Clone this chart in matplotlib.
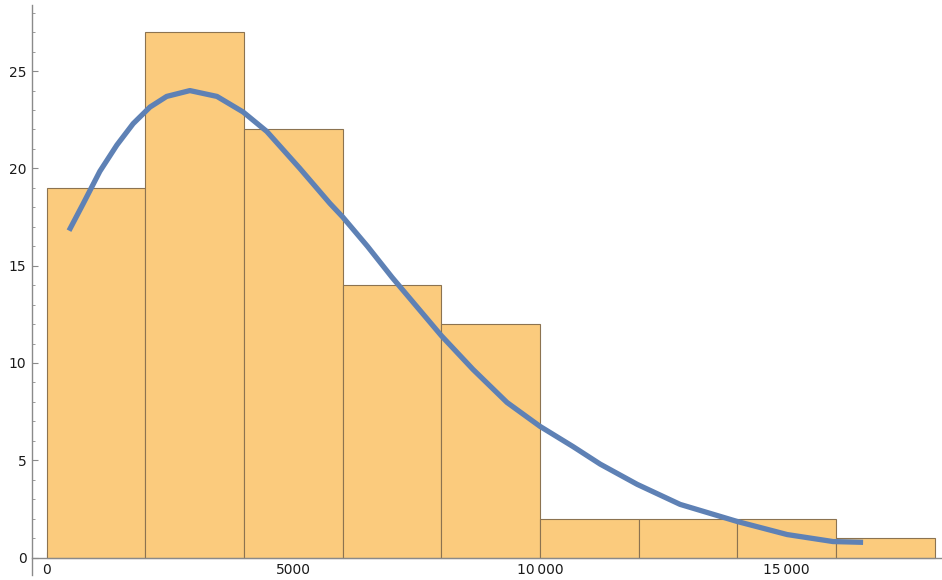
import matplotlib.pyplot as plt
from matplotlib.ticker import MultipleLocator, FuncFormatter

# histogram bins (width 2000) and counts
bin_edges = [0, 2000, 4000, 6000, 8000, 10000, 12000, 14000, 16000, 18000]
counts = [19, 27, 22, 14, 12, 2, 2, 2, 1]

# fitted density curve
curve_x = [450, 740, 1075, 1420, 1750, 2090, 2430, 2900, 3450, 3980, 4460,
           5130, 5740, 6000, 6500, 7000, 7500, 8000, 8640, 9330, 10000,
           10670, 11220, 11970, 12840, 14000, 15010, 15940, 16550]
curve_y = [16.8, 18.2, 19.85, 21.2, 22.3, 23.15, 23.7, 24.0, 23.7, 22.9, 21.9,
           20.0, 18.2, 17.5, 16.0, 14.4, 12.9, 11.4, 9.67, 7.97, 6.74,
           5.7, 4.8, 3.76, 2.73, 1.85, 1.18, 0.82, 0.78]

fig = plt.figure(figsize=(9.42, 5.8), dpi=100)
ax = fig.add_axes([0.034, 0.0086, 0.966, 0.9828])

widths = [b - a for a, b in zip(bin_edges[:-1], bin_edges[1:])]
ax.bar(bin_edges[:-1], counts, width=widths, align='edge',
       color='#FBCB7D', edgecolor='#8C7350', linewidth=0.8, zorder=2)

ax.plot(curve_x, curve_y, color='#5E81B5', linewidth=3.8,
        solid_capstyle='butt', solid_joinstyle='round', zorder=3)

ax.set_xlim(-300, 18150)
ax.set_ylim(-0.9, 28.4)

for s in ['top', 'right']:
    ax.spines[s].set_visible(False)
ax.spines['bottom'].set_position(('data', 0))
for s in ['left', 'bottom']:
    ax.spines[s].set_color('#8a8a8a')
    ax.spines[s].set_linewidth(1.0)
    ax.spines[s].set_zorder(4)

ax.xaxis.set_major_locator(MultipleLocator(5000))
ax.xaxis.set_minor_locator(MultipleLocator(1000))
ax.yaxis.set_major_locator(MultipleLocator(5))
ax.yaxis.set_minor_locator(MultipleLocator(1))

def thousands(v, pos):
    v = int(round(v))
    if v >= 10000:
        return f"{v // 1000}\u2009{v % 1000:03d}"
    return str(v)

ax.xaxis.set_major_formatter(FuncFormatter(thousands))

ax.tick_params(which='both', direction='in', color='#8a8a8a',
               labelsize=10, labelcolor='#1a1a1a')
ax.tick_params(which='major', length=4, width=0.8, pad=4)
ax.tick_params(which='minor', length=2, width=0.6)

ax.set_xticks([t for t in ax.get_xticks() if 0 <= t <= 18000])
ax.set_yticks([t for t in ax.get_yticks() if 0 <= t <= 28])

fig.savefig('out.png', dpi=100)
